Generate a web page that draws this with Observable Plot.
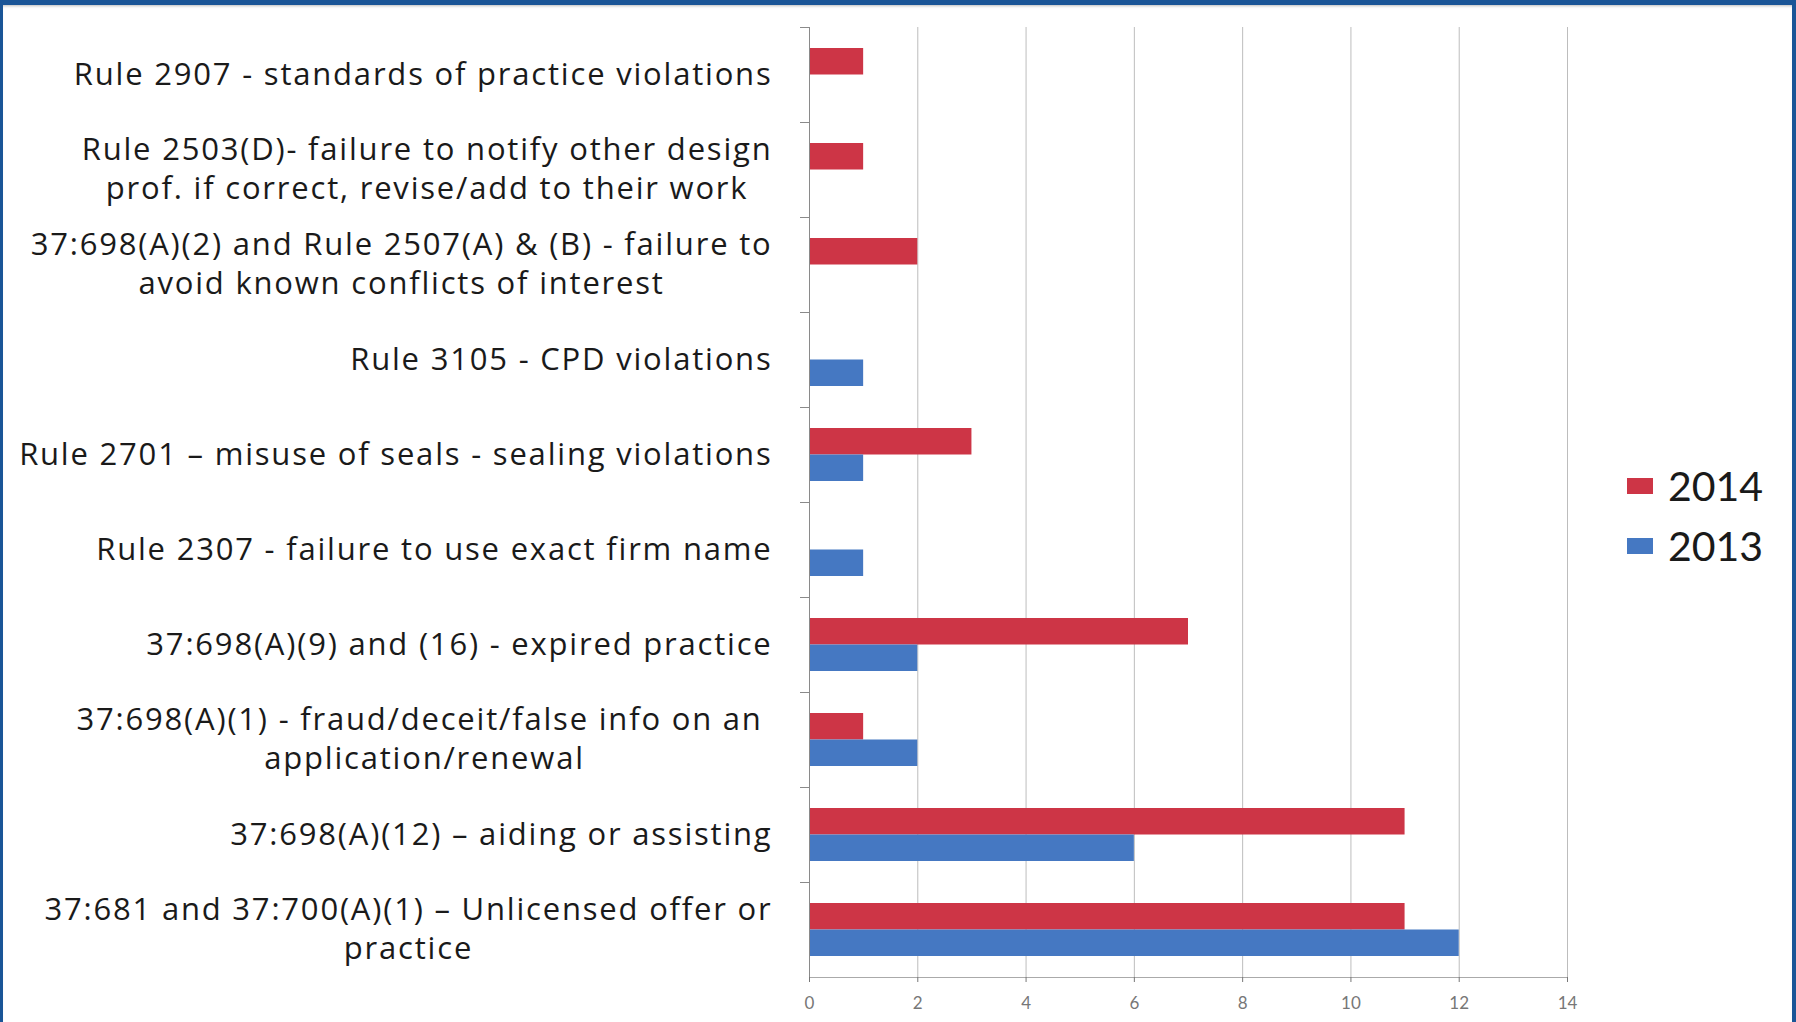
<!DOCTYPE html>
<html><head><meta charset="utf-8">
<script src="https://cdn.jsdelivr.net/npm/d3@7"></script>
<script src="https://cdn.jsdelivr.net/npm/@observablehq/plot@0.6"></script>
<style>
html,body{margin:0;padding:0;background:#fff;}
#wrap{position:relative;width:1796px;height:1022px;overflow:hidden;background:#fff;font-family:"Open Sans", sans-serif;}
#chart{position:absolute;left:0;top:0;}
#chart g[aria-label="y-axis tick label"]{letter-spacing:1.8px;}
#frame{position:absolute;left:0;top:0;width:1796px;height:1022px;box-sizing:border-box;border-top:5px solid #1a5597;border-left:3px solid #1a5597;border-right:4px solid #1a5597;box-shadow: inset 0 3px 3px -2px #bbb;pointer-events:none;}
#legend{position:absolute;left:1627px;top:456px;}
.item{display:flex;align-items:center;height:60px;font-size:41px;color:#1a1a1a;line-height:60px;font-family:Lato, sans-serif;}
.sw{width:26px;height:16px;margin-right:15px;}
</style></head><body>
<div id="wrap"><div id="chart"></div><div id="legend"></div><div id="frame"></div></div>
<script>
const categories = [
  "Rule 2907 - standards of practice violations",
  "Rule 2503(D)- failure to notify other design\nprof. if correct, revise/add to their work",
  "37:698(A)(2) and Rule 2507(A) & (B) - failure to\navoid known conflicts of interest",
  "Rule 3105 - CPD violations",
  "Rule 2701 \u2013 misuse of seals - sealing violations",
  "Rule 2307 - failure to use exact firm name",
  "37:698(A)(9) and (16) - expired practice",
  "37:698(A)(1) - fraud/deceit/false info on an\u00a0\napplication/renewal",
  "37:698(A)(12) \u2013 aiding or assisting",
  "37:681 and 37:700(A)(1) \u2013 Unlicensed offer or\npractice"
];
const series = ["2014", "2013"];
const values2014 = [1, 1, 2, 0, 3, 0, 7, 1, 11, 11];
const values2013 = [0, 0, 0, 1, 1, 1, 2, 2, 6, 12];
const xTicks = [0, 2, 4, 6, 8, 10, 12, 14];
const colors = ["#cd3546", "#4578c2"];

const W = 1796, H = 1022, mL = 809, mR = 229, mT = 27, mB = 45;
const step = (H - mT - mB) / categories.length;
const barH = 26.5;
const pxPerUnit = (W - mL - mR) / 14;
const tickLen = 9;

const rows2014 = categories.map((c, i) => ({cat: c, year: series[0], value: values2014[i]}));
const rows2013 = categories.map((c, i) => ({cat: c, year: series[1], value: values2013[i]}));

const chart = Plot.plot({
  width: W, height: H,
  marginLeft: mL, marginRight: mR, marginTop: mT, marginBottom: mB,
  style: {fontFamily: "'Open Sans', sans-serif", background: "transparent", overflow: "visible"},
  x: {domain: [0, 14], axis: null},
  y: {domain: categories, padding: 0, axis: null},
  color: {domain: series, range: colors},
  marks: [
    Plot.gridX(xTicks.filter(d => d > 0), {stroke: "#bdbdbd", strokeOpacity: 1}),
    Plot.barX(rows2014, {x: "value", y: "cat", fill: "year", insetTop: step / 2 - barH, insetBottom: step / 2}),
    Plot.barX(rows2013, {x: "value", y: "cat", fill: "year", insetTop: step / 2, insetBottom: step / 2 - barH}),
    Plot.ruleX([0], {stroke: "#8a8a8a"}),
    Plot.ruleY([categories[categories.length - 1]], {x1: 0, x2: 14, dy: step / 2, stroke: "#aaaaaa"}),
    Plot.ruleY(categories, {x1: -tickLen / pxPerUnit, x2: 0, dy: -step / 2, stroke: "#8a8a8a"}),
    Plot.axisX({ticks: xTicks, tickSize: 5, tickPadding: 14, fontSize: 17, color: "#777", label: null, fontFamily: "Lato, sans-serif"}),
    Plot.axisY({tickSize: 0, tickPadding: 37, fontSize: 31, lineHeight: 1.27, color: "#1a1a1a", label: null, dy: -3})
  ]
});
document.getElementById("chart").appendChild(chart);

// center wrapped label lines against each other while keeping the block right-aligned
chart.querySelectorAll('g[aria-label="y-axis tick label"] text').forEach(t => {
  const b1 = t.getBBox();
  const right = b1.x + b1.width;
  t.setAttribute("text-anchor", "middle");
  const b2 = t.getBBox();
  const shift = right - (b2.x + b2.width);
  t.setAttribute("transform", (t.getAttribute("transform") || "") + ` translate(${shift},0)`);
});

const legend = document.getElementById("legend");
series.forEach((s, i) => {
  const item = document.createElement("div");
  item.className = "item";
  const sw = document.createElement("span");
  sw.className = "sw";
  sw.style.background = colors[i];
  item.appendChild(sw);
  item.appendChild(document.createTextNode(s));
  legend.appendChild(item);
});
</script>
</body></html>
